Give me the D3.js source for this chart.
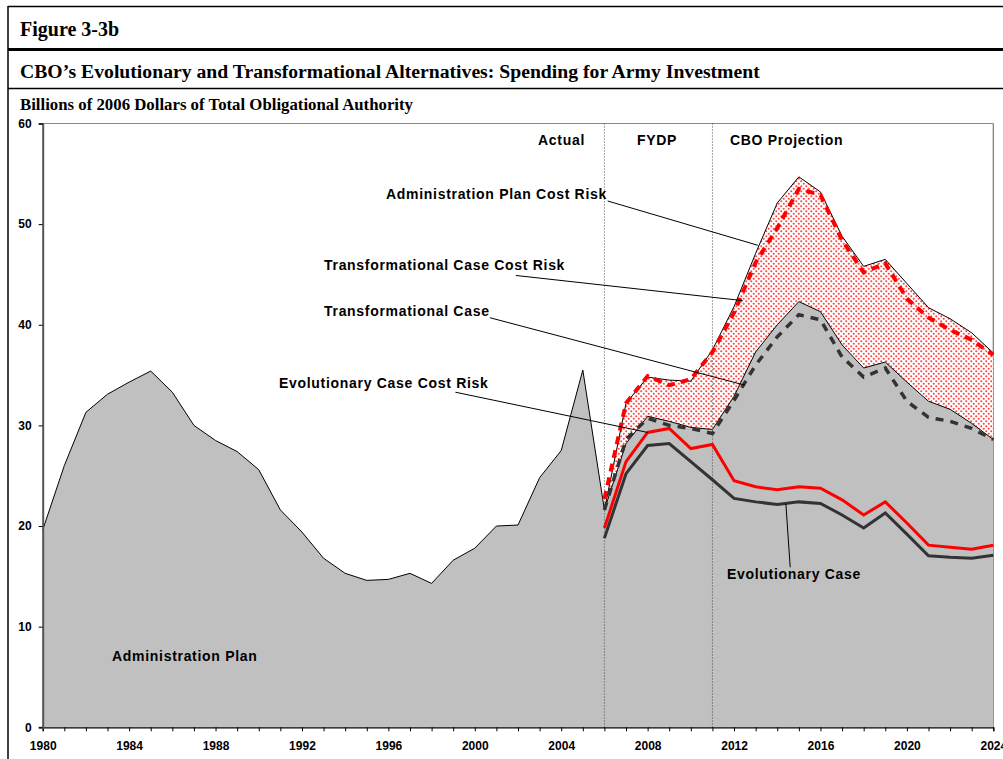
<!DOCTYPE html>
<html>
<head>
<meta charset="utf-8">
<script src="https://cdn.jsdelivr.net/npm/d3@7"></script>
<style>
  body { margin: 0; background: #fff; }
  .axis text { font-family: "Liberation Sans", Arial, sans-serif; font-weight: bold; font-size: 12px; fill: #000; }
  .note { font-family: "Liberation Sans", Arial, sans-serif; font-weight: bold; font-size: 14px; letter-spacing: 0.7px; fill: #000; }
  .head { font-family: "Liberation Serif", "Times New Roman", serif; font-weight: bold; fill: #000; }
</style>
</head>
<body>
<div id="chart"></div>
<script>
// years on the x axis
var years = [1980, 1981, 1982, 1983, 1984, 1985, 1986, 1987, 1988, 1989,
             1990, 1991, 1992, 1993, 1994, 1995, 1996, 1997, 1998, 1999,
             2000, 2001, 2002, 2003, 2004, 2005, 2006, 2007, 2008, 2009,
             2010, 2011, 2012, 2013, 2014, 2015, 2016, 2017, 2018, 2019,
             2020, 2021, 2022, 2023, 2024];
var xTickLabels = [1980, 1984, 1988, 1992, 1996, 2000, 2004, 2008, 2012, 2016, 2020, 2024];
var yTicks = [0, 10, 20, 30, 40, 50, 60];

// actual + administration plan, 1980-2024
var adminPlan = [19.6, 26.0, 31.3, 33.1, 34.3, 35.4, 33.3, 30.0, 28.5, 27.4,
                 25.6, 21.6, 19.4, 16.8, 15.3, 14.6, 14.7, 15.3, 14.3, 16.6,
                 17.8, 20.0, 20.1, 24.8, 27.5, 35.5, 21.6, 28.2, 30.9, 30.4,
                 29.8, 29.6, 32.9, 37.3, 40.0, 42.3, 41.3, 38.0, 35.7, 36.3,
                 34.3, 32.4, 31.6, 30.2, 28.6];

// projection years 2006-2024
var projYears = [2006, 2007, 2008, 2009, 2010, 2011, 2012, 2013, 2014, 2015,
                 2016, 2017, 2018, 2019, 2020, 2021, 2022, 2023, 2024];
var adminCostRisk = [21.6, 32.2, 34.8, 34.5, 34.4, 37.5, 41.8, 47.1, 52.1, 54.7,
                     53.2, 48.8, 45.8, 46.5, 44.1, 41.7, 40.6, 39.2, 37.2];
var transCostRisk = [22.7, 32.2, 34.9, 34.0, 34.6, 37.3, 41.2, 46.2, 49.6, 53.5,
                     52.9, 48.4, 45.2, 46.1, 42.6, 40.7, 39.5, 38.5, 37.0];
var transCase = [21.6, 28.6, 30.7, 30.0, 29.7, 29.2, 32.5, 36.0, 38.8, 41.0,
                 40.5, 36.8, 34.8, 35.7, 32.4, 30.8, 30.4, 29.7, 28.6];
var evoCostRisk = [19.8, 26.4, 29.3, 29.7, 27.7, 28.1, 24.5, 23.9, 23.6, 23.9,
                   23.75, 22.6, 21.1, 22.4, 20.3, 18.1, 17.9, 17.7, 18.1];
var evoCase = [18.8, 25.2, 28.0, 28.2, 26.4, 24.6, 22.75, 22.4, 22.15, 22.4,
               22.25, 21.1, 19.8, 21.3, 19.2, 17.05, 16.9, 16.8, 17.1];

// period boundaries
var periodLines = [2006, 2011];

document.addEventListener('DOMContentLoaded', function () {
  drawChart();
});

function drawChart() {
  var width = 1003, height = 759;
  var svg = d3.select("#chart")
              .append("svg")
              .attr("width", width)
              .attr("height", height);

  //frame + header
  svg.append("line").attr("x1", 8).attr("x2", width).attr("y1", 6.5).attr("y2", 6.5)
     .style("stroke", "#000").style("stroke-width", 1.5);
  svg.append("line").attr("x1", 8).attr("x2", 8).attr("y1", 6).attr("y2", height)
     .style("stroke", "#000").style("stroke-width", 1.5);
  svg.append("line").attr("x1", 8).attr("x2", width).attr("y1", 49.5).attr("y2", 49.5)
     .style("stroke", "#000").style("stroke-width", 3);
  svg.append("line").attr("x1", 8).attr("x2", width).attr("y1", 88.5).attr("y2", 88.5)
     .style("stroke", "#000").style("stroke-width", 1.5);

  svg.append("text").attr("class", "head").attr("x", 20).attr("y", 36)
     .style("font-size", "20px").text("Figure 3-3b");
  svg.append("text").attr("class", "head").attr("x", 20).attr("y", 78)
     .style("font-size", "19.7px")
     .text("CBO\u2019s Evolutionary and Transformational Alternatives: Spending for Army Investment");
  svg.append("text").attr("class", "head").attr("x", 20).attr("y", 110)
     .style("font-size", "16.8px").text("Billions of 2006 Dollars of Total Obligational Authority");

  var x = d3.scaleLinear().domain([1980, 2024]).range([42.7, 993.3]);
  var y = d3.scaleLinear().domain([0, 60]).range([727.3, 123.5]);

  //pattern for cost risk band
  var pat = svg.append("defs").append("pattern")
               .attr("id", "redDots")
               .attr("patternUnits", "userSpaceOnUse")
               .attr("width", 5).attr("height", 5);
  pat.append("rect").attr("width", 5).attr("height", 5).attr("fill", "#fff");
  pat.selectAll("circle")
     .data([[1.25, 1.25], [3.75, 3.75]])
     .enter().append("circle")
     .attr("cx", function (d) { return d[0]; })
     .attr("cy", function (d) { return d[1]; })
     .attr("r", 1.05)
     .attr("fill", "#ff3030")
     .attr("fill-opacity", 0.9);

  //plot border (top, right)
  svg.append("line").attr("x1", x(1980)).attr("x2", x(2024)).attr("y1", y(60)).attr("y2", y(60))
     .style("stroke", "#888").style("stroke-width", 1.2);
  svg.append("line").attr("x1", x(2024)).attr("x2", x(2024)).attr("y1", y(60)).attr("y2", y(0))
     .style("stroke", "#777").style("stroke-width", 1.2);

  var adminRows = years.map(function (yr, i) { return {year: yr, v: adminPlan[i]}; });
  var projRows = projYears.map(function (yr, i) {
    return {year: yr, low: adminPlan[years.indexOf(yr)], high: adminCostRisk[i]};
  });

  //gray area (administration plan)
  var grayArea = d3.area()
      .x(function (d) { return x(d.year); })
      .y0(y(0))
      .y1(function (d) { return y(d.v); });
  svg.append("path")
     .datum(adminRows)
     .attr("d", grayArea)
     .attr("fill", "#c0c0c0");

  //cost risk band
  var riskArea = d3.area()
      .x(function (d) { return x(d.year); })
      .y0(function (d) { return y(d.low); })
      .y1(function (d) { return y(d.high); });
  svg.append("path")
     .datum(projRows)
     .attr("d", riskArea)
     .attr("fill", "url(#redDots)");

  var line = d3.line()
      .x(function (d) { return x(d.year); })
      .y(function (d) { return y(d.v); });

  svg.append("path").datum(adminRows).attr("d", line)
     .attr("fill", "none").attr("stroke", "#000").attr("stroke-width", 1);
  svg.append("path")
     .datum(projYears.map(function (yr, i) { return {year: yr, v: adminCostRisk[i]}; }))
     .attr("d", line)
     .attr("fill", "none").attr("stroke", "#000").attr("stroke-width", 1);

  //period separators
  svg.selectAll(".period")
     .data(periodLines)
     .enter().append("line")
     .attr("class", "period")
     .attr("x1", function (d) { return x(d); })
     .attr("x2", function (d) { return x(d); })
     .attr("y1", y(60))
     .attr("y2", y(0))
     .style("stroke", "#444")
     .style("stroke-width", 1)
     .style("stroke-dasharray", "1,2");

  //series lines
  var series = [
    {vals: transCase, color: "#333", width: 3.5, dash: "8,7"},
    {vals: transCostRisk, color: "#ff0000", width: 4, dash: "8,6"},
    {vals: evoCostRisk, color: "#ff0000", width: 3, dash: null},
    {vals: evoCase, color: "#333", width: 3, dash: null}
  ];
  series.forEach(function (s) {
    svg.append("path")
       .datum(projYears.map(function (yr, i) { return {year: yr, v: s.vals[i]}; }))
       .attr("d", line)
       .attr("fill", "none")
       .attr("stroke", s.color)
       .attr("stroke-width", s.width)
       .attr("stroke-dasharray", s.dash);
  });

  //axes
  var xAxis = svg.append("g")
      .attr("class", "axis")
      .attr("transform", "translate(0," + y(0) + ")")
      .call(d3.axisBottom(x)
        .tickValues(years)
        .tickSize(4)
        .tickPadding(10)
        .tickFormat(function (d) { return xTickLabels.indexOf(d) >= 0 ? d : ""; }));
  xAxis.select(".domain").attr("stroke", "#000").attr("stroke-width", 1.2);

  var yAxis = svg.append("g")
      .attr("class", "axis")
      .attr("transform", "translate(" + x(1980) + ",0)")
      .call(d3.axisLeft(y)
        .tickValues(yTicks)
        .tickSize(4)
        .tickPadding(7)
        .tickFormat(d3.format("d")));
  yAxis.select(".domain").attr("stroke", "#555").attr("stroke-width", 2);

  //period labels
  var periodLabels = [
    {text: "Actual", x: 538, y: 145},
    {text: "FYDP", x: 637, y: 145},
    {text: "CBO Projection", x: 730, y: 145}
  ];
  svg.selectAll(".plabel")
     .data(periodLabels)
     .enter().append("text")
     .attr("class", "note")
     .attr("x", function (d) { return d.x; })
     .attr("y", function (d) { return d.y; })
     .text(function (d) { return d.text; });

  //callouts: leader from (x0,v0) in year/value units to (x1,v1)
  var callouts = [
    {text: "Administration Plan Cost Risk", tx: 386, ty: 199, x0: 2006.15, v0: 52.3, x1: 2013.1, v1: 47.9},
    {text: "Transformational Case Cost Risk", tx: 324, ty: 270, x0: 2001.9, v0: 44.9, x1: 2012.4, v1: 42.4},
    {text: "Transformational Case", tx: 324, ty: 316, x0: 2000.7, v0: 40.7, x1: 2012.5, v1: 34.0},
    {text: "Evolutionary Case Cost Risk", tx: 279, ty: 388, x0: 1999.1, v0: 33.3, x1: 2008.0, v1: 29.3},
    {text: "Evolutionary Case", tx: 727, ty: 579, x0: 2014.6, v0: 15.9, x1: 2014.4, v1: 22.2},
    {text: "Administration Plan", tx: 112, ty: 661, x0: null}
  ];
  callouts.forEach(function (c) {
    if (c.x0 !== null) {
      svg.append("line")
         .attr("x1", x(c.x0)).attr("y1", y(c.v0))
         .attr("x2", x(c.x1)).attr("y2", y(c.v1))
         .style("stroke", "#000").style("stroke-width", 1);
    }
    svg.append("text")
       .attr("class", "note")
       .attr("x", c.tx)
       .attr("y", c.ty)
       .text(c.text);
  });
}
</script>
</body>
</html>
